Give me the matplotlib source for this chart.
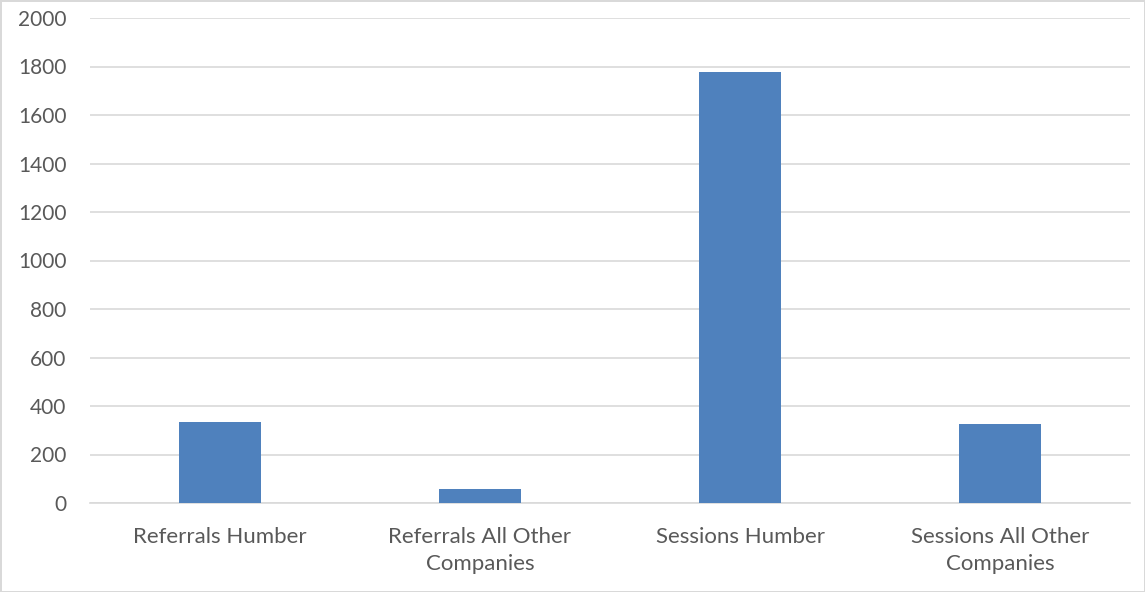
import matplotlib
matplotlib.use("Agg")
import matplotlib.pyplot as plt
import numpy as np

# ── Data ────────────────────────────────────────────────────────────────────
categories = ["Referrals Humber", "Referrals All Other\nCompanies",
              "Sessions Humber", "Sessions All Other\nCompanies"]
values = [336, 56, 1776, 326]
y_ticks = list(range(0, 2001, 200))

C_BAR  = "#4F81BD"
C_GRID = "#D9D9D9"
C_TEXT = "#595959"

plt.rcParams["font.family"] = ["Lato", "DejaVu Sans"]

fig = plt.figure(figsize=(11.45, 5.92), dpi=100)
fig.patch.set_edgecolor("#D9D9D9")
fig.patch.set_linewidth(2)
ax = fig.add_axes([90 / 1145, 1 - 503 / 592, 1040 / 1145, 485 / 592])

x = np.arange(len(categories))
ax.bar(x, values, width=0.315, color=C_BAR, zorder=3)

ax.set_xlim(-0.5, len(categories) - 0.5)
ax.set_ylim(0, 2000)
ax.set_yticks(y_ticks)
ax.set_xticks(x)
ax.set_xticklabels(categories, fontsize=16, color=C_TEXT, linespacing=1.45)
ax.tick_params(axis="y", labelsize=15, labelcolor=C_TEXT, length=0, pad=17)
ax.tick_params(axis="x", length=0, pad=17)
ax.grid(axis="y", color=C_GRID, linewidth=1.2, zorder=0)

for s in ["top", "right", "left"]:
    ax.spines[s].set_visible(False)
ax.spines["bottom"].set_color(C_GRID)
ax.spines["bottom"].set_linewidth(1.2)

fig.savefig("out.png", dpi=100, edgecolor=fig.get_edgecolor())
